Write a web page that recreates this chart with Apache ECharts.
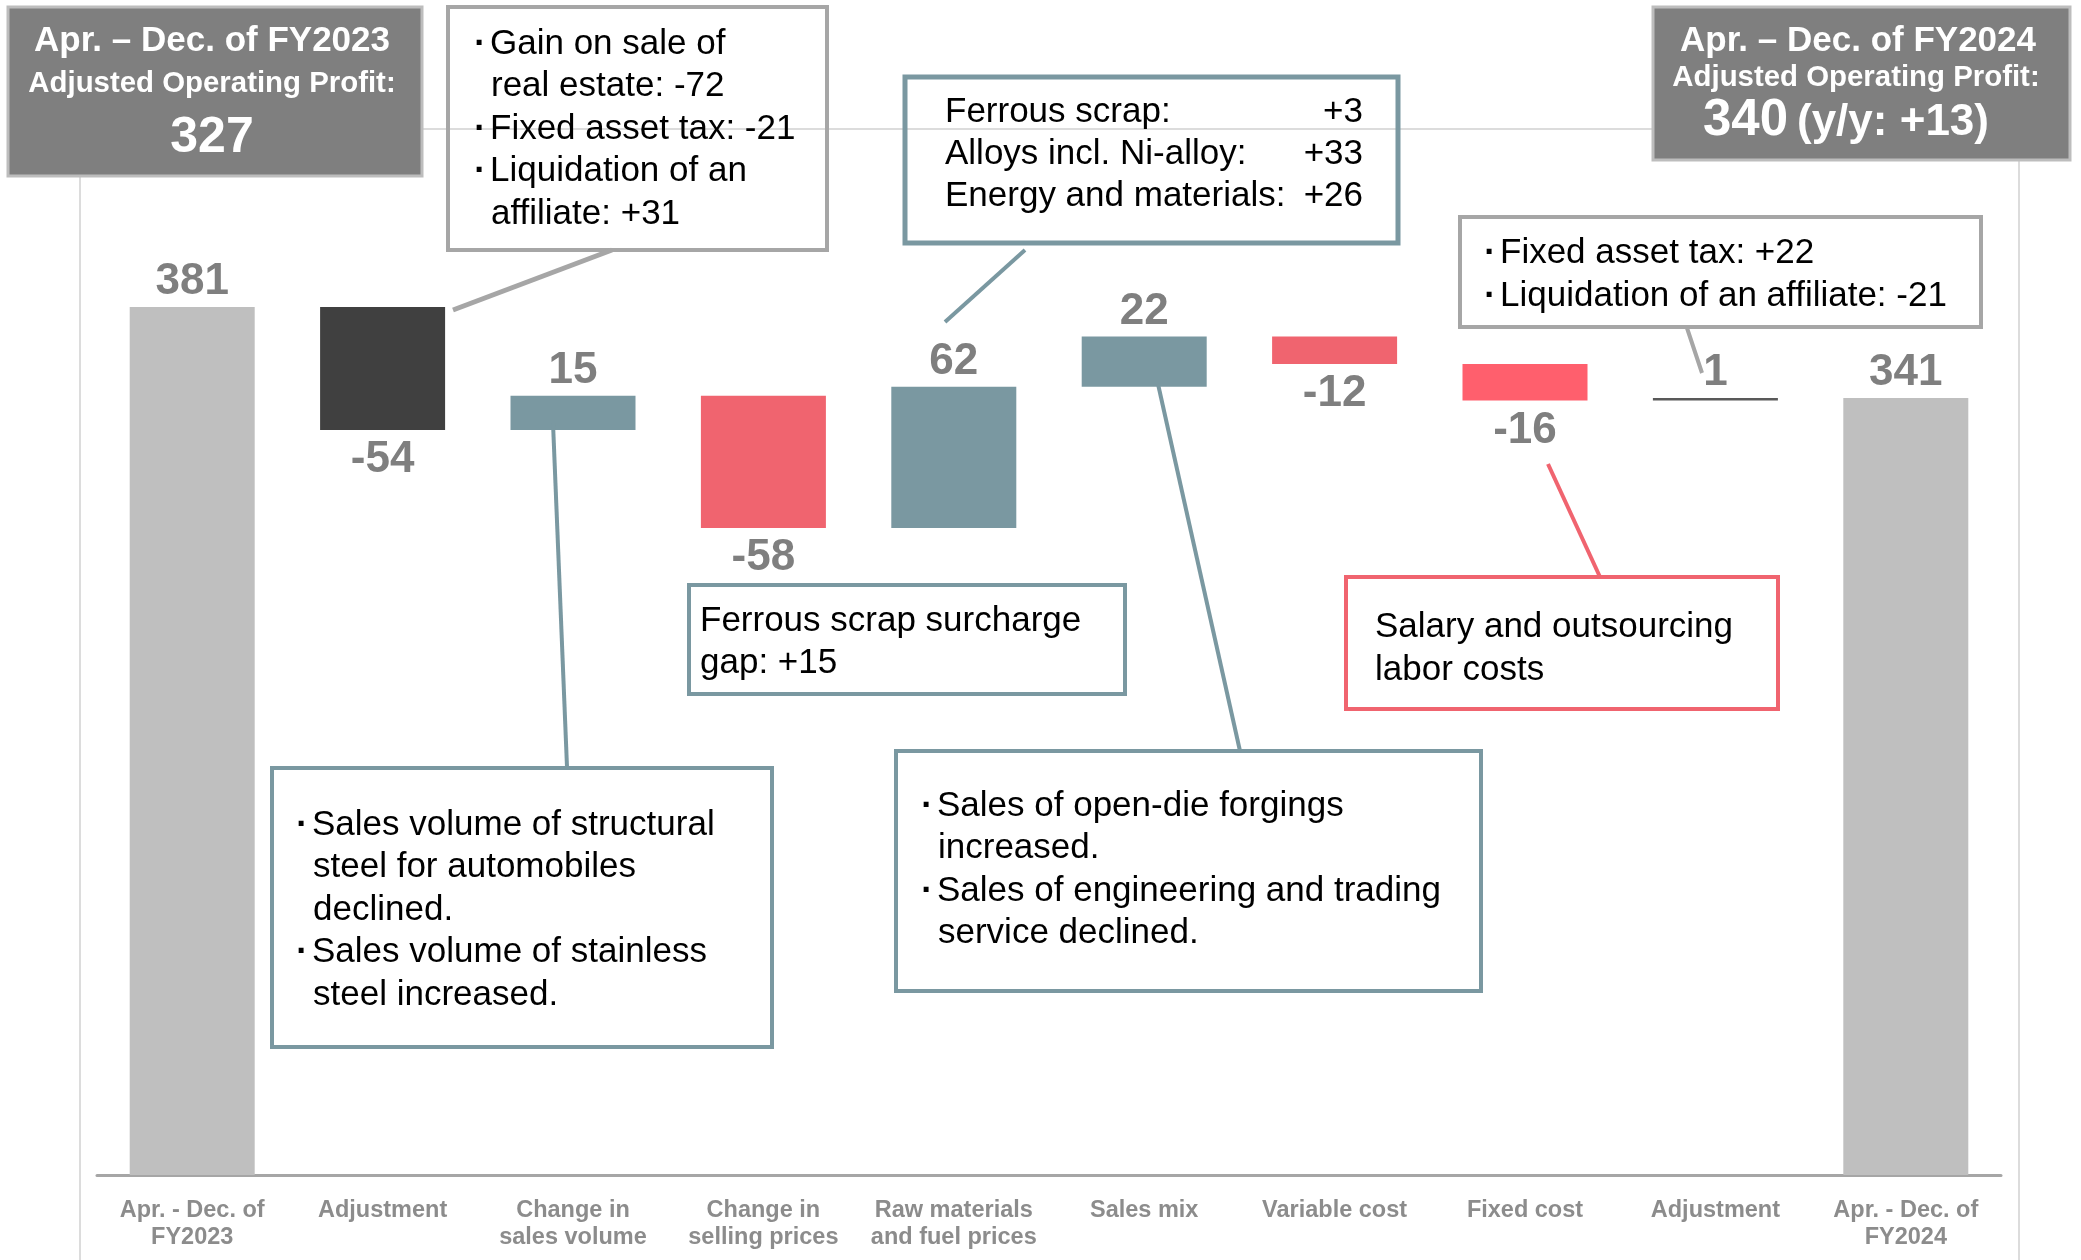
<!DOCTYPE html>
<html>
<head>
<meta charset="utf-8">
<script src="https://cdn.jsdelivr.net/npm/echarts@6/dist/echarts.min.js"></script>
<style>
  html, body { margin: 0; padding: 0; background: #fff; }
  #chart { width: 2081px; height: 1260px; }
</style>
</head>
<body>
<div id="chart"></div>
<script>
  // operating profit bridge, FY2023 -> FY2024 (Apr. - Dec.)
  const categories = [
    'Apr. - Dec. of\nFY2023', 'Adjustment', 'Change in\nsales volume', 'Change in\nselling prices',
    'Raw materials\nand fuel prices', 'Sales mix', 'Variable cost', 'Fixed cost', 'Adjustment',
    'Apr. - Dec. of\nFY2024'
  ];
  const changes = [381, -54, 15, -58, 62, 22, -12, -16, 1, 341];
  const kinds = ['total', 'adjust', 'delta', 'delta', 'delta', 'delta', 'delta', 'delta', 'adjust', 'total'];

  // texts of the boxes
  const leftHead = ['Apr. – Dec. of FY2023', 'Adjusted Operating Profit:', '327'];
  const rightHead = ['Apr. – Dec. of FY2024', 'Adjusted Operating Profit:', '340', '(y/y: +13)'];
  const gainNote = ['・Gain on sale of', 'real estate: -72', '・Fixed asset tax: -21', '・Liquidation of an', 'affiliate: +31'];
  const rawNames = ['Ferrous scrap:', 'Alloys incl. Ni-alloy:', 'Energy and materials:'];
  const rawValues = ['+3', '+33', '+26'];
  const adjNote = ['・Fixed asset tax: +22', '・Liquidation of an affiliate: -21'];
  const surchargeNote = ['Ferrous scrap surcharge', 'gap: +15'];
  const salaryNote = ['Salary and outsourcing', 'labor costs'];
  const volumeNote = ['・Sales volume of structural', 'steel for automobiles', 'declined.', '・Sales volume of stainless', 'steel increased.'];
  const mixNote = ['・Sales of open-die forgings', 'increased.', '・Sales of engineering and trading', 'service declined.'];

  const FONT = '"Liberation Sans", Arial, Helvetica, sans-serif';
  const TEAL = '#7A98A1';
  const RED = '#F0646F';
  const GREY = '#A6A6A6';

  // invisible base + visible part for the waterfall
  let running = 0;
  const baseData = [];
  const barData = [];
  changes.forEach((v, i) => {
    if (kinds[i] === 'total') {
      baseData.push(0);
      barData.push(v);
      running = v;
    } else {
      const next = running + v;
      baseData.push(Math.min(running, next));
      barData.push(Math.abs(v));
      running = next;
    }
  });

  function barColor(i) {
    if (kinds[i] === 'total') return '#BFBFBF';
    if (kinds[i] === 'adjust') return i === 1 ? '#404040' : '#595959';
    if (categories[i] === 'Fixed cost') return '#FF5F6D';
    return changes[i] > 0 ? TEAL : RED;
  }

  function txt(text, x, y, size, opt) {
    opt = opt || {};
    return {
      type: 'text', x: x, y: y, z: 20,
      style: {
        text: text,
        font: (opt.bold ? 'bold ' : '') + size + 'px ' + FONT,
        fill: opt.color || '#000',
        align: opt.align || 'left',
        verticalAlign: 'middle'
      }
    };
  }
  function box(x, y, w, h, stroke, lw, fill) {
    return { type: 'rect', z: 15, shape: { x: x, y: y, width: w, height: h },
      style: { fill: fill || 'none', stroke: stroke, lineWidth: lw } };
  }
  function link(x1, y1, x2, y2, stroke, lw) {
    return { type: 'line', z: 15, shape: { x1: x1, y1: y1, x2: x2, y2: y2 },
      style: { stroke: stroke, lineWidth: lw } };
  }
  // bullet lines start with '・'
  function note(lines, x, y0, step) {
    const out = [];
    lines.forEach((l, k) => {
      const y = y0 + k * step;
      if (l.startsWith('・')) {
        out.push(txt('·', x - 10, y, 35, { align: 'center', bold: true }));
        out.push(txt(l.slice(1), x, y, 35));
      } else {
        out.push(txt(l, x + 1, y, 35));
      }
    });
    return out;
  }

  const graphics = [
    // light frame of the plot area
    { type: 'rect', z: 1, shape: { x: 80, y: 129, width: 1939, height: 1200 },
      style: { fill: 'none', stroke: '#DCDCDC', lineWidth: 2 } },

    // head boxes
    box(8, 7, 414, 169, '#BDBDBD', 3, '#7F7F7F'),
    txt(leftHead[0], 212, 41, 35, { bold: true, color: '#fff', align: 'center' }),
    txt(leftHead[1], 212, 84, 29.4, { bold: true, color: '#fff', align: 'center' }),
    txt(leftHead[2], 212, 138, 50, { bold: true, color: '#fff', align: 'center' }),
    box(1653, 7, 417, 153, '#BDBDBD', 3, '#7F7F7F'),
    txt(rightHead[0], 1858, 41, 35, { bold: true, color: '#fff', align: 'center' }),
    txt(rightHead[1], 1856, 78, 29.4, { bold: true, color: '#fff', align: 'center' }),
    txt(rightHead[2], 1703, 121, 51, { bold: true, color: '#fff' }),
    txt(rightHead[3], 1797, 123, 44, { bold: true, color: '#fff' }),

    // first adjustment
    box(448, 7, 379, 243, GREY, 4),
    link(612, 250, 453, 310, GREY, 5),
    ...note(gainNote, 490, 44, 42.5),

    // raw materials
    box(905, 77, 493, 166, TEAL, 5),
    link(1025, 250, 945, 322, TEAL, 4),
    ...rawNames.map((n, k) => txt(n, 945, 112 + k * 42, 35)),
    ...rawValues.map((v, k) => txt(v, 1363, 112 + k * 42, 35, { align: 'right' })),

    // second adjustment
    box(1460, 217, 521, 110, GREY, 4),
    link(1687, 328, 1702, 373, GREY, 4),
    ...note(adjNote, 1500, 253, 43),

    // selling prices
    box(689, 585, 436, 109, TEAL, 4),
    ...surchargeNote.map((l, k) => txt(l, 700, 621 + k * 42, 35)),

    // fixed cost
    box(1346, 577, 432, 132, RED, 4),
    link(1548, 464, 1600, 577, RED, 4),
    ...salaryNote.map((l, k) => txt(l, 1375, 627 + k * 43, 35)),

    // sales volume
    box(272, 768, 500, 279, TEAL, 4),
    link(553, 423, 567, 767, TEAL, 4),
    ...note(volumeNote, 312, 825, 42.5),

    // sales mix
    box(896, 751, 585, 240, TEAL, 4),
    link(1158, 384, 1240, 751, TEAL, 4),
    ...note(mixNote, 937, 806.5, 42.3)
  ];

  const chart = echarts.init(document.getElementById('chart'));
  chart.setOption({
    animation: false,
    grid: { left: 97, right: 80, top: 127, bottom: 85, outerBoundsMode: 'none' },
    xAxis: {
      type: 'category',
      data: categories,
      axisTick: { show: false },
      axisLine: { lineStyle: { color: '#A6A6A6', width: 3 } },
      axisLabel: {
        interval: 0,
        color: '#8C8C8C',
        fontFamily: FONT,
        fontWeight: 'bold',
        fontSize: 23.5,
        lineHeight: 27,
        margin: 22
      }
    },
    yAxis: { type: 'value', min: 0, max: 460, show: false },
    series: [
      {
        type: 'bar', stack: 'w', barWidth: 125, silent: true,
        itemStyle: { color: 'transparent' },
        data: baseData
      },
      {
        type: 'bar', stack: 'w', barWidth: 125,
        data: barData.map((h, i) => ({
          value: h,
          itemStyle: { color: barColor(i) },
          label: {
            position: changes[i] < 0 ? 'bottom' : 'top',
            distance: changes[i] < 0 ? 8 : 3
          }
        })),
        label: {
          show: true,
          color: '#7F7F7F',
          fontFamily: FONT,
          fontWeight: 'bold',
          fontSize: 44,
          formatter: p => String(changes[p.dataIndex])
        }
      }
    ],
    graphic: graphics
  });
</script>
</body>
</html>
